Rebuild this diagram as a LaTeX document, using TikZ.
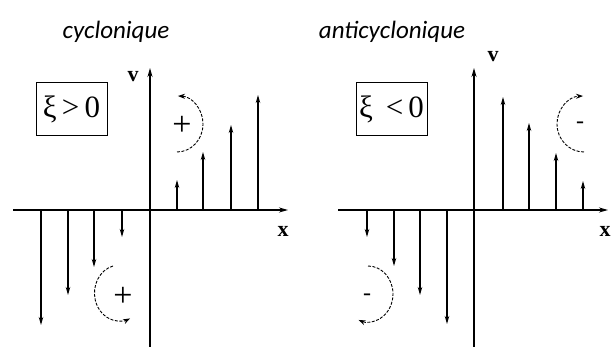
\documentclass[tikz,border=0pt]{standalone}
\usepackage{fontspec}
\setmainfont{Liberation Serif}
\newfontfamily\titlefont{Carlito}
\usetikzlibrary{arrows.meta}
\begin{document}
\begin{tikzpicture}[x=1pt,y=1pt,
  axis/.style={line width=1.3pt,-{Stealth[length=9pt,width=5pt]}},
  vec/.style={line width=1.1pt,-{Stealth[length=8pt,width=4.5pt]}},
  rot/.style={line width=0.9pt,dash pattern=on 3pt off 1.5pt,-{Stealth[length=7pt,width=5pt]}},
  ttl/.style={font=\titlefont\itshape\fontsize{25}{28}\selectfont},
  axlab/.style={font=\bfseries\fontsize{22}{24}\selectfont},
  cond/.style={draw,line width=1pt,minimum width=71pt,minimum height=53pt,inner sep=0pt,font=\fontsize{31}{33}\selectfont},
  sgn/.style={font=\fontsize{34}{36}\selectfont},
  msgn/.style={font=\fontsize{24}{26}\selectfont}]
\useasboundingbox (0,0) rectangle (614,347);
% titles
\node[ttl] (t1) at (116,315) {cyclonique};
\node[ttl] (t2) at (392,315) {anticyclonique};
% ---------- left panel ----------
\coordinate (vb1) at (150,0);
\coordinate (vt1) at (150,279);
\coordinate (xl1) at (13,137);
\coordinate (xr1) at (288,137);
\draw[axis] (vb1) -- (vt1);
\draw[axis] (xl1) -- (xr1);
\node[axlab] (vl1) at (133,270) {v};
\node[axlab] (xlab1) at (283,116) {x};
\node[cond] (c1) at (71.5,237.5) {ξ\,>\,0};
\foreach \x/\y in {177/167,203/195,231/222,258/252}
  \draw[vec] (\x,137) -- (\x,\y);
\foreach \x/\y in {41/22,68/52,94/80,122/110}
  \draw[vec] (\x,137) -- (\x,\y);
\draw[rot] (177,195) arc[start angle=-90,end angle=88,x radius=26,y radius=28];
\node[sgn] (p1) at (182,221) {+};
\draw[rot] (113,81) arc[start angle=105,end angle=295,x radius=25,y radius=28];
\node[sgn] (p2) at (123,50) {+};
% ---------- right panel ----------
\coordinate (vb2) at (474,0);
\coordinate (vt2) at (474,279);
\coordinate (xl2) at (338,137);
\coordinate (xr2) at (608,137);
\draw[axis] (vb2) -- (vt2);
\draw[axis] (xl2) -- (xr2);
\node[axlab] (vl2) at (493,290) {v};
\node[axlab] (xlab2) at (605,116) {x};
\node[cond] (c2) at (391.5,237.5) {ξ\, <\,0};
\foreach \x/\y in {503/250,529/224,556/194,583/166}
  \draw[vec] (\x,137) -- (\x,\y);
\foreach \x/\y in {367/110,394/81,420/52,447/23}
  \draw[vec] (\x,137) -- (\x,\y);
\draw[rot] (584,195) arc[start angle=270,end angle=92,x radius=27,y radius=28];
\node[msgn] (m1) at (580,222) {-};
\draw[rot] (368,81) arc[start angle=90,end angle=-112,x radius=25,y radius=28];
\node[msgn] (m2) at (367,50) {-};
\end{tikzpicture}
\end{document}
